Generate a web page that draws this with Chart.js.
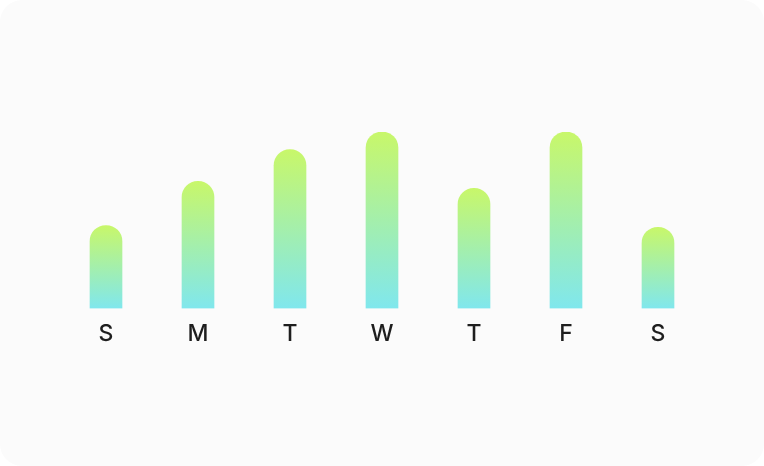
<!DOCTYPE html>
<html>
<head>
<meta charset="utf-8">
<script src="https://cdn.jsdelivr.net/npm/chart.js@4.4.1/dist/chart.umd.min.js"></script>
<style>
    html, body { margin: 0; padding: 0; background: #ffffff; }
    .card {
        position: relative;
        width: 764px;
        height: 466px;
        background: #fbfbfb;
        border-radius: 22px;
        overflow: hidden;
    }
    .card canvas { position: absolute; left: 0; top: 0; }
</style>
</head>
<body>
<div class="card">
    <canvas id="weekChart" width="764" height="466"></canvas>
</div>
<script>
// Dados do gráfico
const dias = ['S', 'M', 'T', 'W', 'T', 'F', 'S'];
const valores = [47, 72, 90, 100, 68, 100, 46];
const corTopo = '#c8f76a';
const corBase = '#80e7ed';

// Gradiente vertical por barra (do topo da barra até a base)
function gradienteBarra(context) {
    const chart = context.chart;
    const yScale = chart.scales.y;
    if (!chart.chartArea || !yScale || context.dataIndex === undefined) return corTopo;
    const topo = yScale.getPixelForValue(context.raw);
    const base = yScale.getPixelForValue(0);
    const g = chart.ctx.createLinearGradient(0, topo, 0, base);
    g.addColorStop(0, corTopo);
    g.addColorStop(1, corBase);
    return g;
}

const ctx = document.getElementById('weekChart').getContext('2d');
new Chart(ctx, {
    type: 'bar',
    data: {
        labels: dias,
        datasets: [{
            data: valores,
            backgroundColor: gradienteBarra,
            borderRadius: { topLeft: 16, topRight: 16, bottomLeft: 0, bottomRight: 0 },
            borderSkipped: false,
            barThickness: 32
        }]
    },
    options: {
        responsive: false,
        animation: false,
        layout: {
            padding: { left: 60, right: 60, top: 132, bottom: 106 }
        },
        plugins: {
            legend: { display: false },
            tooltip: { enabled: false }
        },
        scales: {
            x: {
                grid: { display: false, drawTicks: false },
                border: { display: false },
                ticks: {
                    color: '#1e1e1e',
                    padding: 12,
                    font: { family: 'Inter', size: 23, weight: '500' }
                }
            },
            y: {
                display: false,
                min: 0,
                max: 100
            }
        }
    }
});
</script>
</body>
</html>
